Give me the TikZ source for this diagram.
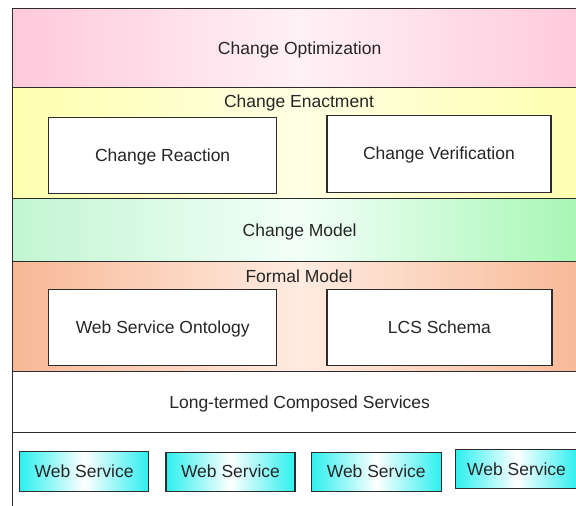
\documentclass[tikz,border=0pt]{standalone}
\usepackage{fontspec}
\setmainfont{Liberation Sans}
\usepackage{xcolor}
\usetikzlibrary{positioning}

\definecolor{optpink}{HTML}{FFC9DB}
\definecolor{optpinklt}{HTML}{FFF1F6}
\definecolor{enactyellow}{HTML}{FFFFAE}
\definecolor{enactyellowlt}{HTML}{FFFFE4}
\definecolor{modelgreen}{HTML}{C2F5D2}
\definecolor{modelgreenlt}{HTML}{F3FFF9}
\definecolor{formalorange}{HTML}{F8B896}
\definecolor{formalorangelt}{HTML}{FFEBE0}
\definecolor{wscyan}{HTML}{2EEFEF}
\definecolor{framegray}{HTML}{2C2C2C}

\tikzset{
  layer/.style={rectangle, draw=framegray, line width=1.3pt, anchor=north west,
    inner sep=0pt, minimum width=574pt},
  part/.style={rectangle, draw=framegray, line width=1.3pt, fill=white,
    anchor=north west, inner sep=0pt},
  wsbox/.style={rectangle, draw=framegray, line width=1.3pt, inner sep=0pt,
    minimum width=129pt, minimum height=39pt,
    left color=wscyan, right color=wscyan, middle color=white},
  title/.style={inner sep=0pt}
}

\begin{document}
\begin{tikzpicture}[x=1pt, y=-1pt,
  every node/.style={font=\fontsize{17.5}{21}\selectfont, text=black!85,
    text height=12.5pt, text depth=0pt}]
\useasboundingbox (0,0) rectangle (576,506);
\clip (0,0) rectangle (576,506);

% Layers, top to bottom
\node[layer, minimum height=79pt, left color=optpink, right color=optpink,
  middle color=optpinklt] (optim) at (12,8) {Change Optimization};
\node[layer, minimum height=111pt, left color=enactyellow, right color=enactyellow,
  middle color=enactyellowlt] (enact) at (12,87) {};
\node[layer, minimum height=63pt, left color=modelgreen, right color=modelgreen!85!green,
  middle color=modelgreenlt] (chmodel) at (12,198) {Change Model};
\node[layer, minimum height=110pt, left color=formalorange, right color=formalorange,
  middle color=formalorangelt] (formal) at (12,261) {};
\node[layer, minimum height=61pt, fill=white] (composed) at (12,371) {Long-termed Composed Services};
\node[layer, minimum height=100pt, fill=white] (services) at (12,432) {};

% Change enactment
\node[title] (enacttitle) at (299,101) {Change Enactment};
\node[part, minimum width=228pt, minimum height=76pt] (reaction) at (48,117) {Change Reaction};
\node[part, minimum width=224pt, minimum height=77pt, right=49pt of reaction, yshift=2pt] (verif) {Change Verification};

% Formal model
\node[title] (formaltitle) at (299,276) {Formal Model};
\node[part, minimum width=228pt, minimum height=76pt] (ontology) at (48,289) {Web Service Ontology};
\node[part, minimum width=225pt, minimum height=76pt, right=49pt of ontology] (schema) {LCS Schema};

% Web services
\node[wsbox, anchor=north west, minimum height=40pt] (ws1) at (19,451) {Web Service};
\node[wsbox, right=16pt of ws1] (ws2) {Web Service};
\node[wsbox, minimum width=130pt, right=15pt of ws2] (ws3) {Web Service};
\node[wsbox, minimum width=122pt, right=13pt of ws3, yshift=2.5pt] (ws4) {Web Service};
\end{tikzpicture}
\end{document}
